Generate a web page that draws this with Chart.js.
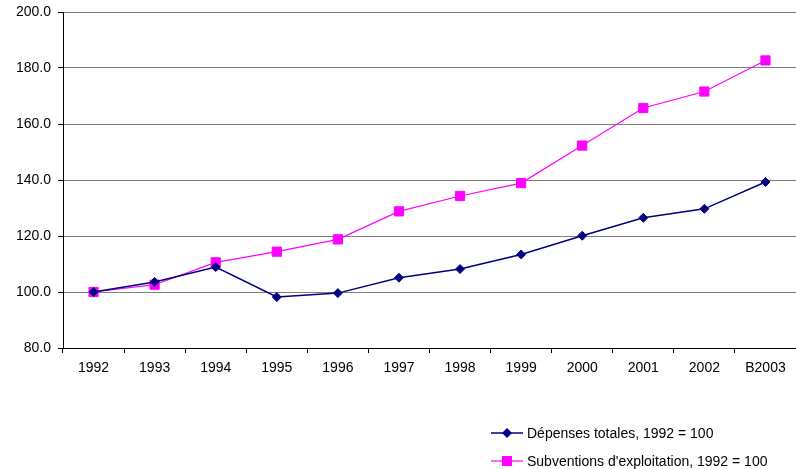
<!DOCTYPE html>
<html>
<head>
<meta charset="utf-8">
<script src="https://cdn.jsdelivr.net/npm/chart.js@4.4.1/dist/chart.umd.min.js"></script>
<style>
  html, body { margin: 0; padding: 0; background: #ffffff; overflow: hidden; }
  #wrap { position: relative; width: 796px; height: 469px; }
  #chart { position: absolute; left: 0; top: 0; }
  .legend { position: absolute; left: 491px; top: 422px; font-family: "Liberation Sans", Arial, sans-serif; font-size: 14px; color: #000; }
  .item { position: relative; height: 28px; line-height: 22px; padding-left: 36px; white-space: nowrap; }
  .item canvas { position: absolute; left: 0; top: 1px; }
</style>
</head>
<body>
<div id="wrap">
  <canvas id="chart" width="796" height="469"></canvas>
  <div class="legend" id="legend"></div>
</div>
<script>
// Years (last one is the budget estimate)
const years = ['1992', '1993', '1994', '1995', '1996', '1997', '1998', '1999', '2000', '2001', '2002', 'B2003'];

// Index values, 1992 = 100
const depensesTotales = [100.0, 103.6, 108.9, 98.2, 99.6, 105.1, 108.2, 113.4, 120.1, 126.5, 129.7, 139.3];
const subventionsExploitation = [100.0, 102.6, 110.6, 114.4, 118.8, 128.8, 134.3, 138.9, 152.3, 165.7, 171.6, 182.7];

const seriesLabels = ['Dépenses totales, 1992 = 100', "Subventions d'exploitation, 1992 = 100"];
const yTicks = { min: 80, max: 200, step: 20 };

const FONT = { family: '"Liberation Sans", Arial, sans-serif', size: 14 };

const datasets = [
  {
    label: seriesLabels[0],
    data: depensesTotales,
    borderColor: '#000080',
    backgroundColor: '#000080',
    borderWidth: 1.5,
    pointStyle: 'rectRot',
    pointRadius: 4.5,
    pointBorderWidth: 1,
    tension: 0
  },
  {
    label: seriesLabels[1],
    data: subventionsExploitation,
    borderColor: '#ff00ff',
    backgroundColor: '#ff00ff',
    borderWidth: 1.2,
    pointStyle: 'rect',
    pointRadius: 6.5,
    pointBorderWidth: 1,
    tension: 0
  }
];

const chart = new Chart(document.getElementById('chart'), {
  type: 'line',
  data: { labels: years, datasets: datasets },
  options: {
    responsive: false,
    animation: false,
    layout: { autoPadding: false, padding: { top: 12, right: -5, bottom: 91, left: 0 } },
    plugins: { legend: { display: false }, tooltip: { enabled: false } },
    scales: {
      x: {
        offset: true,
        grid: {
          offset: true,
          drawOnChartArea: false,
          drawTicks: true,
          tickLength: 5,
          color: '#000000'
        },
        border: { color: '#000000', width: 1 },
        ticks: { color: '#000000', font: FONT, padding: 7, maxRotation: 0, autoSkip: false },
        afterFit: function (s) { s.height = 30; s.paddingLeft = 0; s.paddingRight = 0; }
      },
      y: {
        min: yTicks.min,
        max: yTicks.max,
        grid: {
          color: '#7f7f7f',
          lineWidth: 1,
          drawTicks: true,
          tickLength: 5,
          tickColor: '#000000'
        },
        border: { color: '#000000', width: 1 },
        ticks: {
          stepSize: yTicks.step,
          color: '#000000',
          font: FONT,
          padding: 7,
          callback: function (v) { return Number(v).toFixed(1); }
        },
        afterFit: function (s) { s.width = 63; s.paddingTop = 0; s.paddingBottom = 0; }
      }
    }
  }
});

// Legend rows: line with the series marker, followed by the label
const legend = document.getElementById('legend');
datasets.forEach(function (ds) {
  const row = document.createElement('div');
  row.className = 'item';
  const c = document.createElement('canvas');
  c.width = 32; c.height = 20;
  const ctx = c.getContext('2d');
  ctx.strokeStyle = ds.borderColor;
  ctx.lineWidth = ds.borderWidth;
  ctx.beginPath(); ctx.moveTo(0, 10); ctx.lineTo(32, 10); ctx.stroke();
  ctx.fillStyle = ds.backgroundColor;
  if (ds.pointStyle === 'rectRot') {
    ctx.beginPath();
    ctx.moveTo(16, 5); ctx.lineTo(21, 10); ctx.lineTo(16, 15); ctx.lineTo(11, 10);
    ctx.closePath(); ctx.fill();
  } else {
    ctx.fillRect(11, 5, 10, 10);
  }
  row.appendChild(c);
  const span = document.createElement('span');
  span.textContent = ds.label;
  row.appendChild(span);
  legend.appendChild(row);
});
</script>
</body>
</html>
